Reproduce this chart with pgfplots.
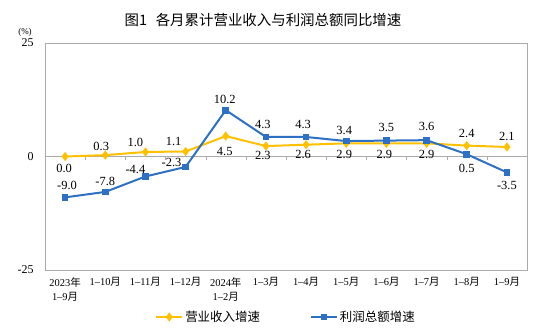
\documentclass[border=0pt]{standalone}
\usepackage{pgfplots}
\pgfplotsset{compat=1.18}
\usepackage{pgfplotstable}
\usepackage{fontspec}
\setmainfont{Liberation Serif}
\newfontfamily\cjk{Noto Sans CJK SC}
\definecolor{rev}{RGB}{255,192,0}
\definecolor{prof}{RGB}{46,112,196}
\definecolor{axgray}{RGB}{170,170,170}

\pgfplotstableread{
x y dx dy lab
0 0.0 -1 -12 0.0
1 0.3 -4 9 0.3
2 1.0 -10 10 1.0
3 1.1 -12 10 1.1
4 4.5 -1 -15 4.5
5 2.3 -3 -9 2.3
6 2.6 -3 -10 2.6
7 2.9 -2 -11 2.9
8 2.9 -2 -11 2.9
9 2.9 0 -11 2.9
10 2.4 0 12 2.4
11 2.1 0 11 2.1
}\revtab

\pgfplotstableread{
x y dx dy lab
0 -9.0 2 12 -9.0
1 -7.8 0 10 -7.8
2 -4.4 -10 7 -4.4
3 -2.3 -14 4 -2.3
4 10.2 -1 11 10.2
5 4.3 -3 13 4.3
6 4.3 -3 13 4.3
7 3.4 -2 11 3.4
8 3.5 0 13 3.5
9 3.6 0 14 3.6
10 0.5 0 -14 0.5
11 -3.5 0 -13 -3.5
}\proftab

\begin{document}
\begin{tikzpicture}
\useasboundingbox (0,0) rectangle (547bp,334bp);
\node[font=\cjk\fontsize{14.5}{16}\selectfont] at (263bp,314bp) {图1\hspace{0.6em}各月累计营业收入与利润总额同比增速};
\node[font=\fontsize{9}{9}\selectfont] at (25bp,302bp) {(\%)};

% zero line with category tick marks
\begin{axis}[
  at={(45bp,64bp)}, anchor=south west, scale only axis,
  width=482bp, height=227bp,
  xmin=-0.5, xmax=11.5, ymin=-25, ymax=25,
  axis x line=middle, axis y line=none,
  axis line style={draw=axgray,-},
  xtick={0.5,1.5,...,10.5}, xticklabels={},
  tick align=outside, major tick length=3bp,
  tick style={draw=axgray},
]
\end{axis}

\begin{axis}[
  at={(45bp,64bp)}, anchor=south west, scale only axis,
  width=482bp, height=227bp,
  xmin=-0.5, xmax=11.5, ymin=-25, ymax=25,
  xtick={0,...,11},
  xticklabels={{2023{\cjk 年}\\1–9{\cjk 月}},{1–10{\cjk 月}},{1–11{\cjk 月}},{1–12{\cjk 月}},{2024{\cjk 年}\\1–2{\cjk 月}},{1–3{\cjk 月}},{1–4{\cjk 月}},{1–5{\cjk 月}},{1–6{\cjk 月}},{1–7{\cjk 月}},{1–8{\cjk 月}},{1–9{\cjk 月}}},
  ytick={-25,0,25},
  major tick length=0pt,
  axis line style={draw=axgray},
  /pgf/number format/assume math mode=true,
  yticklabel style={font=\fontsize{12}{12}\selectfont, xshift=-8bp},
  xticklabel style={font=\fontsize{10.5}{14}\selectfont, align=center, yshift=-4bp},
  clip=false,
  legend style={at={(0.5,-0.207)}, anchor=center, draw=none, fill=none,
    legend columns=2, font=\cjk\fontsize{12.5}{12.5}\selectfont,
    /tikz/every even column/.append style={column sep=48bp}},
  legend cell align=left,
  legend image code/.code={\draw[mark repeat=2,mark phase=2,#1] plot coordinates {(0bp,0bp) (13bp,0bp) (26bp,0bp)};},
]
\addplot[rev, line width=2bp, mark=diamond*, mark size=3bp, mark options={solid},
  nodes near coords, point meta=explicit symbolic,
  visualization depends on={\thisrow{dx} \as \labdx},
  visualization depends on={\thisrow{dy} \as \labdy},
  every node near coord/.append style={anchor=center, xshift=\labdx bp, yshift=\labdy bp,
    font=\fontsize{12.5}{12.5}\selectfont, text=black, inner sep=0pt}]
  table[x=x,y=y,meta=lab]{\revtab};
\addlegendentry{营业收入增速}
\addplot[prof, line width=2bp, mark=square*, mark size=2.4bp, mark options={solid},
  nodes near coords, point meta=explicit symbolic,
  visualization depends on={\thisrow{dx} \as \labdx},
  visualization depends on={\thisrow{dy} \as \labdy},
  every node near coord/.append style={anchor=center, xshift=\labdx bp, yshift=\labdy bp,
    font=\fontsize{12.5}{12.5}\selectfont, text=black, inner sep=0pt}]
  table[x=x,y=y,meta=lab]{\proftab};
\addlegendentry{利润总额增速}
\end{axis}
\end{tikzpicture}
\end{document}
